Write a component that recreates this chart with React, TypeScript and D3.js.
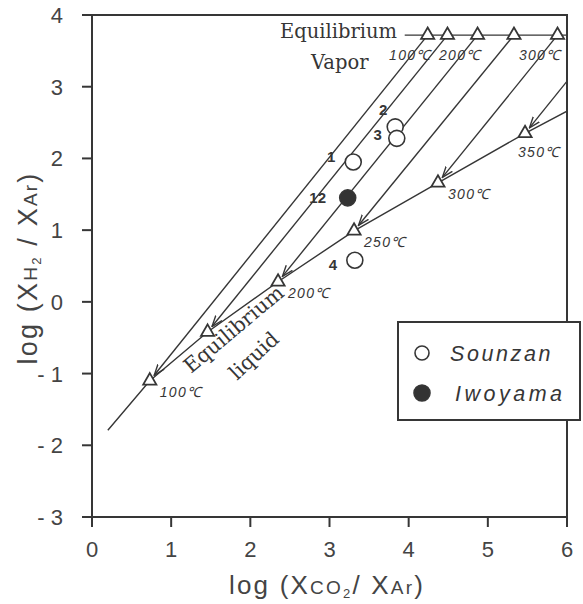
import * as d3 from "d3";

// liquid / vapor equilibrium points for each temperature (°C)
const TEMPS = [100, 150, 200, 250, 300, 350];
const LIQUID_X = [0.73, 1.46, 2.35, 3.31, 4.37, 5.47];
const LIQUID_Y = [-1.1, -0.42, 0.28, 0.99, 1.66, 2.35];
const VAPOR_X = [4.24, 4.49, 4.87, 5.33, 5.88, 6.47];
const VAPOR_Y = 3.72;
const VAPOR_LINE_START = 3.95;
// liquid curve continues past the first and last triangle
const LIQUID_LOW_END: [number, number] = [0.2, -1.79];
const LIQUID_HIGH_END: [number, number] = [6.0, 2.66];

const VAPOR_LABELS = [100, 200, 300];
const LIQUID_LABELS = [100, 200, 250, 300, 350];

// gas samples
const SAMPLE_IDS = ["1", "2", "3", "4", "12"];
const SAMPLE_X = [3.3, 3.83, 3.85, 3.32, 3.23];
const SAMPLE_Y = [1.95, 2.44, 2.28, 0.58, 1.45];
const SAMPLE_SITE = ["Sounzan", "Sounzan", "Sounzan", "Sounzan", "Iwoyama"];
const SITES = ["Sounzan", "Iwoyama"];

const X_TICKS = [0, 1, 2, 3, 4, 5, 6];
const Y_TICKS = [-3, -2, -1, 0, 1, 2, 3, 4];

const W = 583;
const H = 604;
const PLOT = { left: 92, right: 567, top: 15, bottom: 517 };
const INK = "#363636";
const SANS = "'Liberation Sans', Arial, sans-serif";
const SERIF = "'DejaVu Serif', serif";

// nudges for the sample number labels (px, relative to the circle)
const ID_NUDGE: Record<string, [number, number]> = {
  "1": [-22, 0],
  "2": [-12, -12],
  "3": [-19, 2],
  "4": [-22, 10],
  "12": [-30, 5],
};

function fmtTick(t: number) {
  return t < 0 ? `- ${-t}` : `${t}`;
}

export default function App() {
  const x = d3.scaleLinear().domain([0, 6]).range([PLOT.left, PLOT.right]);
  const y = d3.scaleLinear().domain([-3, 4]).range([PLOT.bottom, PLOT.top]);

  const line = d3
    .line<[number, number]>()
    .x((d) => x(d[0]))
    .y((d) => y(d[1]));

  const liquidPts: [number, number][] = [
    LIQUID_LOW_END,
    ...LIQUID_X.map((v, i) => [v, LIQUID_Y[i]] as [number, number]),
    LIQUID_HIGH_END,
  ];

  const tri = d3.symbol(d3.symbolTriangle, 75)()!;

  // tie lines end a little short of the liquid triangle so the arrow tip shows
  const tieLines = TEMPS.map((t, i) => {
    const x0 = x(VAPOR_X[i]);
    const y0 = y(VAPOR_Y);
    const x1 = x(LIQUID_X[i]);
    const y1 = y(LIQUID_Y[i]);
    const len = Math.hypot(x1 - x0, y1 - y0);
    const k = (len - 7) / len;
    return { t, x0, y0, x1: x0 + (x1 - x0) * k, y1: y0 + (y1 - y0) * k };
  });

  return (
    <svg
      width={W}
      height={H}
      viewBox={`0 0 ${W} ${H}`}
      style={{ position: "absolute", left: 0, top: 0, background: "#fff" }}
    >
      <defs>
        <clipPath id="plot-clip">
          <rect
            x={PLOT.left}
            y={PLOT.top}
            width={PLOT.right - PLOT.left}
            height={PLOT.bottom - PLOT.top}
          />
        </clipPath>
        <marker
          id="arrow"
          viewBox="0 -5 12 10"
          refX={11}
          refY={0}
          markerWidth={12}
          markerHeight={10}
          markerUnits="userSpaceOnUse"
          orient="auto"
        >
          <path d="M0,-4L11,0L0,4" fill="none" stroke={INK} strokeWidth={1.4} />
        </marker>
      </defs>

      {/* lines */}
      <g clipPath="url(#plot-clip)" fill="none" stroke={INK} strokeWidth={1.4}>
        <path d={line(liquidPts) ?? ""} />
        <path
          d={
            line([
              [VAPOR_LINE_START, VAPOR_Y],
              [6, VAPOR_Y],
            ]) ?? ""
          }
        />
        {tieLines.map((l) => (
          <line
            key={l.t}
            x1={l.x0}
            y1={l.y0}
            x2={l.x1}
            y2={l.y1}
            markerEnd="url(#arrow)"
          />
        ))}
      </g>

      {/* triangles */}
      <g fill="#fff" stroke={INK} strokeWidth={1.8}>
        {TEMPS.map((t, i) => (
          <path
            key={"l" + t}
            d={tri}
            transform={`translate(${x(LIQUID_X[i])},${y(LIQUID_Y[i])})`}
          />
        ))}
        {TEMPS.filter((_, i) => VAPOR_X[i] <= 6).map((t, i) => (
          <path
            key={"v" + t}
            d={tri}
            transform={`translate(${x(VAPOR_X[i])},${y(VAPOR_Y)})`}
          />
        ))}
      </g>

      {/* temperature labels */}
      <g
        fontFamily={SANS}
        fontStyle="italic"
        fontSize={14}
        letterSpacing={1.3}
        fill={INK}
      >
        {VAPOR_LABELS.map((t) => {
          const i = TEMPS.indexOf(t);
          return (
            <text
              key={"vl" + t}
              x={x(VAPOR_X[i]) + 4}
              y={y(VAPOR_Y) + 25}
              textAnchor="end"
            >
              {t}℃
            </text>
          );
        })}
        {LIQUID_LABELS.map((t) => {
          const i = TEMPS.indexOf(t);
          const last = t === 350;
          return (
            <text
              key={"ll" + t}
              x={x(LIQUID_X[i]) + (last ? -7 : 10)}
              y={y(LIQUID_Y[i]) + (last ? 24 : 16)}
            >
              {t}℃
            </text>
          );
        })}
      </g>

      {/* samples */}
      {SAMPLE_IDS.map((id, i) => {
        const cx = x(SAMPLE_X[i]);
        const cy = y(SAMPLE_Y[i]);
        const filled = SAMPLE_SITE[i] === "Iwoyama";
        const [dx, dy] = ID_NUDGE[id];
        return (
          <g key={id}>
            <circle
              cx={cx}
              cy={cy}
              r={8}
              fill={filled ? "#333" : "#fff"}
              stroke={INK}
              strokeWidth={1.6}
            />
            <text
              x={cx + dx}
              y={cy + dy}
              textAnchor="middle"
              fontFamily={SANS}
              fontWeight="bold"
              fontSize={15}
              fill={INK}
            >
              {id}
            </text>
          </g>
        );
      })}

      {/* equilibrium annotations */}
      <g fontFamily={SERIF} fill={INK}>
        <text x={280} y={38} fontSize={19.5}>
          Equilibrium
        </text>
        <text x={311} y={69} fontSize={19.5}>
          Vapor
        </text>
        <text transform="translate(191,374) rotate(-40)" fontSize={20.5}>
          Equilibrium
        </text>
        <text transform="translate(237,381) rotate(-43)" fontSize={20.5}>
          liquid
        </text>
      </g>

      {/* frame + axes */}
      <rect
        x={PLOT.left}
        y={PLOT.top}
        width={PLOT.right - PLOT.left}
        height={PLOT.bottom - PLOT.top}
        fill="none"
        stroke={INK}
        strokeWidth={2}
      />
      <g stroke={INK} strokeWidth={2}>
        {Y_TICKS.map((t) => (
          <line key={t} x1={PLOT.left - 10} x2={PLOT.left} y1={y(t)} y2={y(t)} />
        ))}
        {X_TICKS.map((t) => (
          <line key={t} x1={x(t)} x2={x(t)} y1={PLOT.bottom} y2={PLOT.bottom + 10} />
        ))}
      </g>
      <g fontFamily={SANS} fontSize={22} fill="#444">
        {Y_TICKS.map((t) => (
          <text key={t} x={63} y={y(t) + 8} textAnchor="end">
            {fmtTick(t)}
          </text>
        ))}
        {X_TICKS.map((t) => (
          <text key={t} x={x(t)} y={557} textAnchor="middle">
            {fmtTick(t)}
          </text>
        ))}
      </g>

      {/* axis titles */}
      <text
        x={327}
        y={594}
        textAnchor="middle"
        fontFamily={SANS}
        fontSize={26}
        letterSpacing={2.2}
        fill="#444"
      >
        log (X
        <tspan fontSize={19}>CO</tspan>
        <tspan fontSize={13} dy={4}>
          2
        </tspan>
        <tspan dy={-4}>/ X</tspan>
        <tspan fontSize={19}>Ar</tspan>)
      </text>
      <text
        transform="translate(37,268) rotate(-90)"
        textAnchor="middle"
        fontFamily={SANS}
        fontSize={27}
        letterSpacing={2.2}
        fill="#444"
      >
        log (X
        <tspan fontSize={19}>H</tspan>
        <tspan fontSize={13} dy={4}>
          2
        </tspan>
        <tspan dy={-4}> / X</tspan>
        <tspan fontSize={19}>Ar</tspan>)
      </text>

      {/* legend */}
      <g>
        <rect x={398} y={322} width={182} height={98} fill="#fff" stroke={INK} strokeWidth={2} />
        {SITES.map((s, i) => (
          <g key={s} transform={`translate(0,${i * 40})`}>
            <circle
              cx={422}
              cy={353}
              r={s === "Iwoyama" ? 8 : 7}
              fill={s === "Iwoyama" ? "#333" : "#fff"}
              stroke={INK}
              strokeWidth={1.6}
            />
            <text
              x={s === "Iwoyama" ? 455 : 450}
              y={361}
              fontFamily={SANS}
              fontStyle="italic"
              fontSize={21.5}
              letterSpacing={s === "Iwoyama" ? 3.5 : 2.6}
              fill={INK}
            >
              {s}
            </text>
          </g>
        ))}
      </g>
    </svg>
  );
}
